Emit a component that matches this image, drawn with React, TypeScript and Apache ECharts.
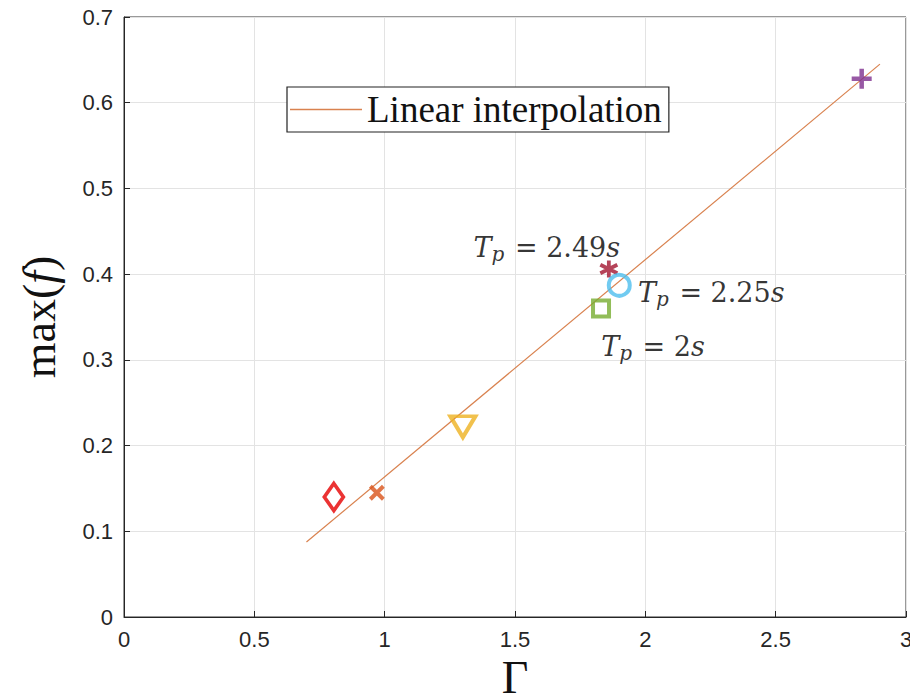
import React, { useEffect, useRef } from "react";
import * as echarts from "echarts";

const xTicks = [0, 0.5, 1, 1.5, 2, 2.5, 3];
const yTicks = [0, 0.1, 0.2, 0.3, 0.4, 0.5, 0.6, 0.7];
const fitLine = [
  [0.7, 0.0875],
  [2.9, 0.645],
];
const diamondPt = [0.805, 0.14];
const crossPt = [0.97, 0.145];
const trianglePt = [1.3, 0.222];
const squarePt = [1.83, 0.36];
const circlePt = [1.9, 0.387];
const asteriskPt = [1.86, 0.406];
const plusPt = [2.83, 0.628];
const legendName = "Linear interpolation";

const mathFont = "DejaVu Serif";
const mathRich = {
  i: { fontFamily: mathFont, fontStyle: "italic", fontSize: 27, color: "#000", lineHeight: 34 },
  r: { fontFamily: mathFont, fontSize: 27, color: "#000", lineHeight: 34 },
  sub: {
    fontFamily: mathFont,
    fontStyle: "italic",
    fontSize: 20,
    color: "#000",
    lineHeight: 34,
    verticalAlign: "bottom",
    padding: [14, 2, 0, 0],
  },
};
const tpLabel = (v: string) => `{i|T}{sub|p}{r| = ${v}}{i|s}`;

export default function App() {
  const ref = useRef<HTMLDivElement>(null);
  useEffect(() => {
    if (!ref.current) return;
    const chart = echarts.init(ref.current, undefined, { renderer: "svg" });
    const hollow = (c: string, w = 3) => ({ color: "rgba(0,0,0,0)", borderColor: c, borderWidth: w });
    chart.setOption({
      animation: false,
      backgroundColor: "#fff",
      grid: {
        left: 124,
        right: 4,
        top: 17,
        bottom: 83,
        outerBoundsMode: "none",
        containLabel: false,
        show: true,
        borderColor: "#333",
        borderWidth: 1,
        backgroundColor: "transparent",
      },
      legend: {
        left: 287,
        top: 87,
        data: [{ name: legendName, icon: "rect" }],
        itemWidth: 72,
        itemHeight: 1.5,
        backgroundColor: "#fff",
        borderColor: "#222",
        borderWidth: 1.2,
        borderRadius: 0,
        padding: [4, 7, 4, 3],
        textStyle: { fontFamily: "Liberation Serif", fontSize: 37, color: "#111" },
      },
      xAxis: {
        type: "value",
        min: 0,
        max: 3,
        interval: 0.5,
        name: "Γ",
        nameLocation: "middle",
        nameGap: 42,
        nameTextStyle: { fontFamily: "Liberation Serif", fontSize: 46, lineHeight: 36, color: "#111" },
        axisLine: { show: true, lineStyle: { color: "#262626", width: 1 } },
        axisTick: { show: true, inside: true, length: 6, lineStyle: { color: "#262626" } },
        axisLabel: {
          fontFamily: "Liberation Sans",
          fontSize: 22,
          color: "#262626",
          margin: 11,
          formatter: (v: number) => String(v),
        },
        splitLine: { show: true, lineStyle: { color: "#e3e3e3", width: 1 } },
      },
      yAxis: {
        type: "value",
        min: 0,
        max: 0.7,
        interval: 0.1,
        name: "{r|max(}{i|f}{r|)}",
        nameLocation: "middle",
        nameGap: 62,
        nameRotate: 90,
        nameTextStyle: {
          rich: {
            r: { fontFamily: "Liberation Serif", fontSize: 46, color: "#111" },
            i: { fontFamily: "Liberation Serif", fontStyle: "italic", fontSize: 46, color: "#111" },
          },
        },
        axisLine: { show: true, lineStyle: { color: "#262626", width: 1 } },
        axisTick: { show: true, inside: true, length: 6, lineStyle: { color: "#262626" } },
        axisLabel: {
          fontFamily: "Liberation Sans",
          fontSize: 22,
          color: "#262626",
          margin: 11,
          formatter: (v: number) => String(Math.round(v * 10) / 10),
        },
        splitLine: { show: true, lineStyle: { color: "#e3e3e3", width: 1 } },
      },
      series: [
        {
          name: legendName,
          type: "line",
          data: fitLine,
          symbol: "none",
          color: "#d9824f",
          lineStyle: { color: "#d9824f", width: 1.2 },
          z: 2,
        },
        {
          type: "scatter",
          data: [diamondPt],
          symbol: "diamond",
          symbolSize: [19, 27],
          itemStyle: hollow("#e60000", 3.8),
          z: 3,
        },
        {
          type: "scatter",
          data: [crossPt],
          symbol: "path://M0,0L10,10M10,0L0,10",
          symbolSize: 13,
          itemStyle: hollow("#d95319", 4),
          z: 3,
        },
        {
          type: "scatter",
          data: [trianglePt],
          symbol: "triangle",
          symbolRotate: 180,
          symbolSize: [25, 21],
          itemStyle: hollow("#edb120", 4),
          z: 3,
        },
        {
          type: "scatter",
          data: [squarePt],
          symbol: "rect",
          symbolSize: 16,
          itemStyle: hollow("#77ac30", 4),
          label: {
            show: true,
            position: "inside",
            offset: [52, 38],
            formatter: tpLabel("2"),
            rich: mathRich,
          },
          z: 3,
        },
        {
          type: "scatter",
          data: [asteriskPt],
          symbol: "path://M5,0L5,10M0.7,2.5L9.3,7.5M9.3,2.5L0.7,7.5",
          symbolSize: 17,
          itemStyle: hollow("#a2142f", 3.8),
          label: {
            show: true,
            position: "inside",
            offset: [-62, -22],
            formatter: tpLabel("2.49"),
            rich: mathRich,
          },
          z: 4,
        },
        {
          type: "scatter",
          data: [circlePt],
          symbol: "circle",
          symbolSize: 21,
          itemStyle: hollow("#4dbeee", 4),
          label: {
            show: true,
            position: "inside",
            offset: [92, 7],
            formatter: tpLabel("2.25"),
            rich: mathRich,
          },
          z: 5,
        },
        {
          type: "scatter",
          data: [plusPt],
          symbol: "path://M5,0L5,10M0,5L10,5",
          symbolSize: 20,
          itemStyle: hollow("#7e2f8e", 4.5),
          z: 3,
        },
      ],
    });
    return () => chart.dispose();
  }, []);
  return (
    <div
      ref={ref}
      style={{ position: "fixed", left: 0, top: 0, width: 910, height: 700, background: "#fff" }}
    />
  );
}
